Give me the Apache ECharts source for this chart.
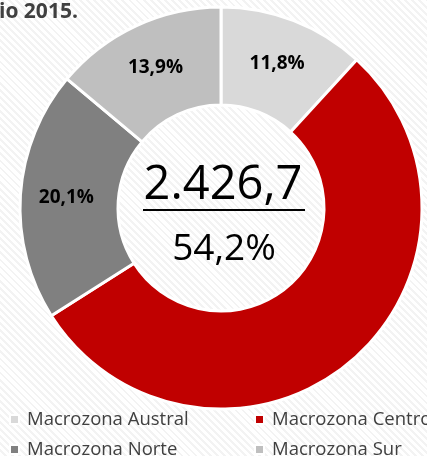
<!DOCTYPE html>
<html>
<head>
<meta charset="utf-8">
<script src="https://cdn.jsdelivr.net/npm/echarts@6/dist/echarts.min.js"></script>
<style>
  html, body {
    margin: 0;
    padding: 0;
    background: repeating-linear-gradient(45deg, #ffffff 0px, #ffffff 3px, #f3f3f3 3px, #f3f3f3 5px);
  }
  #main {
    width: 427px;
    height: 456px;
  }
</style>
</head>
<body>
<div id="main"></div>
<script>
// data
const zones = ['Macrozona Austral', 'Macrozona Centro', 'Macrozona Norte', 'Macrozona Sur'];
const shares = [11.8, 54.2, 20.1, 13.9];
const colors = ['#D9D9D9', '#C00000', '#808080', '#BFBFBF'];
const showLabel = [true, false, true, true];
const centerValue = '2.426,7';
const centerShare = '54,2%';
const titleText = 'io 2015.';

const fmt = (v) => v.toFixed(1).replace('.', ',') + '%';

const chart = echarts.init(document.getElementById('main'), null, {renderer: 'canvas'});

const pieData = zones.map((name, i) => ({
  name: name,
  value: shares[i],
  itemStyle: {color: colors[i]},
  label: {show: showLabel[i]}
}));

// legend: 2 x 2 grid, one legend per cell
const legendPos = [[4, 405], [249, 405], [4, 435], [249, 435]];
const legends = zones.map((name, i) => ({
  data: [name],
  left: legendPos[i][0],
  top: legendPos[i][1],
  itemWidth: 9,
  itemHeight: 9,
  icon: 'rect',
  selectedMode: false,
  textStyle: {fontFamily: 'Open Sans', fontSize: 18.5, color: '#404040', padding: [0, 0, 0, 3]}
}));

const option = {
  backgroundColor: 'transparent',
  animation: false,
  title: {
    text: titleText,
    left: -1,
    top: 2,
    padding: 0,
    textStyle: {
      fontFamily: 'Open Sans',
      fontWeight: 'bold',
      fontSize: 21,
      color: '#404040'
    }
  },
  legend: legends,
  series: [
    {
      type: 'pie',
      center: [221, 208],
      radius: [103, 201],
      startAngle: 90,
      clockwise: true,
      avoidLabelOverlap: false,
      itemStyle: {
        borderColor: '#ffffff',
        borderWidth: 3
      },
      label: {
        position: 'inside',
        formatter: (p) => fmt(p.value),
        fontFamily: 'Open Sans',
        fontWeight: 'bold',
        fontSize: 19,
        color: '#000000'
      },
      labelLine: {show: false},
      emphasis: {disabled: true},
      data: pieData
    }
  ],
  graphic: [
    {
      type: 'text',
      style: {
        text: centerValue,
        x: 223,
        y: 186,
        align: 'center',
        verticalAlign: 'middle',
        fontFamily: 'Open Sans',
        fontSize: 47,
        fill: '#000000'
      }
    },
    {
      type: 'text',
      style: {
        text: centerShare,
        x: 224,
        y: 249,
        align: 'center',
        verticalAlign: 'middle',
        fontFamily: 'Open Sans',
        fontSize: 37,
        fill: '#000000'
      }
    },
    {
      type: 'rect',
      shape: {x: 143, y: 209, width: 162, height: 2},
      style: {fill: '#000000'}
    }
  ]
};

chart.setOption(option);
</script>
</body>
</html>
